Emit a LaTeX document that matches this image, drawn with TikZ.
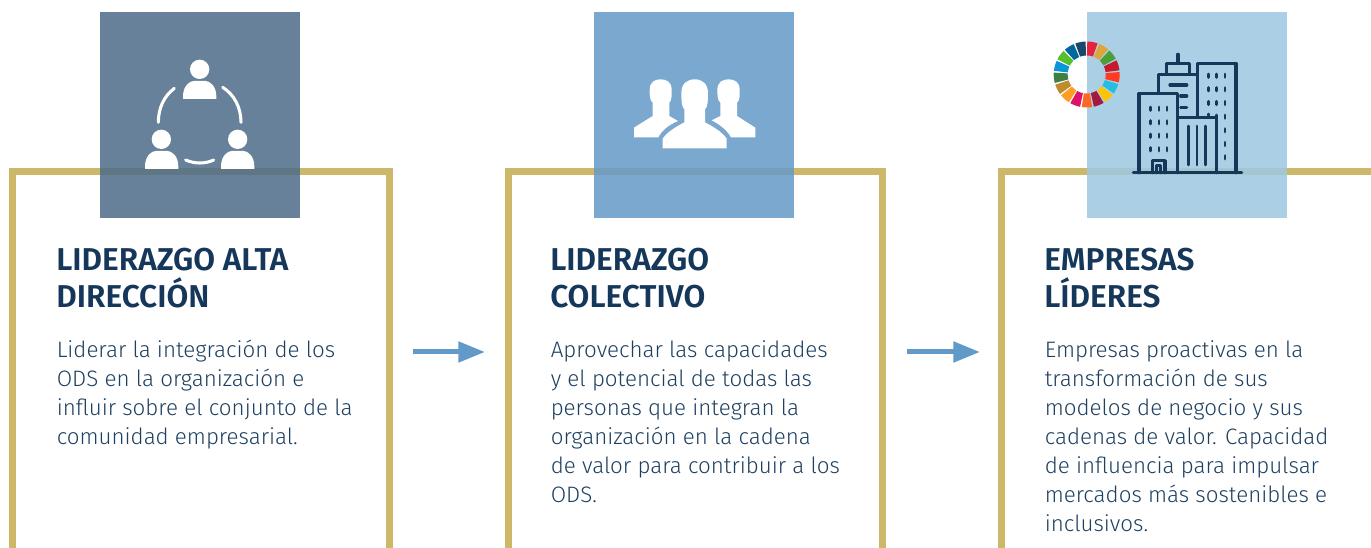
\documentclass[tikz,border=0pt]{standalone}
\usepackage{fontspec}
\setmainfont{Fira Sans Light}[BoldFont=Fira Sans SemiBold]
\usetikzlibrary{arrows.meta}
\definecolor{gold}{HTML}{CDB768}
\definecolor{navy}{HTML}{14375A}
\definecolor{bodyc}{HTML}{1E4060}
\definecolor{arrowc}{HTML}{6199C8}
\definecolor{sqa}{RGB}{79,110,138}
\definecolor{sqb}{RGB}{103,155,199}
\definecolor{sqc}{RGB}{159,201,225}
\tikzset{
  frame/.style={draw=gold,line width=5.25pt,miter limit=10},
  square/.style={opacity=.87},
  heading/.style={anchor=north west,inner sep=0pt,align=left,text=navy,font=\fontsize{23.7}{27.75}\selectfont\bfseries},
  bodytext/.style={anchor=north west,inner sep=0pt,align=left,text=bodyc,font=\fontsize{16.75}{21.75}\selectfont},
  flow/.style={draw=arrowc,line width=3.75pt,-{Triangle[length=20pt,width=15pt]}},
  ico/.style={fill=white,draw=none},
  ringarc/.style={draw=white,line width=2.3pt,line cap=round},
  bld/.style={draw=navy,line width=2.5pt,line cap=round,line join=round},
  win/.style={draw=navy,line width=2.2pt,line cap=round}
}
\begin{document}
\begin{tikzpicture}[x=.75pt,y=-.75pt]
\useasboundingbox (0,0) rectangle (1371,548);
% frames
\draw[frame] (12.5,548) -- (12.5,171.5) -- (389.5,171.5) -- (389.5,548);
\draw[frame] (508.5,548) -- (508.5,171.5) -- (882.5,171.5) -- (882.5,548);
\draw[frame] (1001.5,548) -- (1001.5,171.5) -- (1371,171.5);
% squares
\fill[sqa,square] (100,12) rectangle (300,218);
\fill[sqb,square] (594,12) rectangle (794,218);
\fill[sqc,square] (1087,12) rectangle (1287,218);
% icon 1
\begin{scope}[shift={(90,0)},x=.25pt,y=-.25pt]
  \foreach \hx/\hy/\bx in {329/208/279,214/418/165,443/418/393}{
    \fill[ico] (\hx,\hy) circle[radius=29];
    \pgfmathsetmacro{\by}{\hy+35}
    \fill[ico] (\bx,\by+54) -- (\bx,\by+46) .. controls (\bx,\by+15) and (\bx+20,\by) .. (\bx+32,\by)
      -- (\bx+68,\by) .. controls (\bx+80,\by) and (\bx+100,\by+15) .. (\bx+100,\by+46) -- (\bx+100,\by+54) -- cycle;
  }
  \draw[ringarc] (253,265) .. controls (222,288) and (205,325) .. (205,367);
  \draw[ringarc] (398,262) .. controls (432,283) and (453,322) .. (453,367);
  \draw[ringarc] (287,480) .. controls (315,492) and (345,492) .. (371,480);
\end{scope}
% icon 2
\begin{scope}[shift={(590,60)},x=.25pt,y=-.25pt]
  \fill[ico] (132,232) -- (132,203) -- (188,168) -- (188,128)
    .. controls (178,122) and (179,100) .. (179,90)
    .. controls (179,65) and (195,58) .. (212,58)
    .. controls (229,58) and (245,65) .. (245,90)
    .. controls (245,100) and (246,122) .. (238,128)
    -- (238,168) -- (264,183) .. controls (235,195) and (215,212) .. (205,232) -- cycle;
  \fill[ico] (496,232) -- (496,203) -- (441,168) -- (441,128)
    .. controls (451,122) and (449,100) .. (449,90)
    .. controls (449,65) and (433,58) .. (416,58)
    .. controls (399,58) and (382,65) .. (382,90)
    .. controls (382,100) and (382,122) .. (391,128)
    -- (391,168) -- (365,181) .. controls (392,195) and (412,212) .. (423,232) -- cycle;
  \fill[ico] (218,265) -- (218,236) .. controls (232,215) and (262,198) .. (283,187) -- (283,148)
    .. controls (274,142) and (274,115) .. (274,100)
    .. controls (274,70) and (292,58) .. (314,58)
    .. controls (336,58) and (354,70) .. (354,100)
    .. controls (354,115) and (354,142) .. (345,148)
    -- (345,187) .. controls (366,198) and (396,215) .. (410,236) -- (410,265) -- cycle;
\end{scope}
% icon 3
\begin{scope}[shift={(1040,30)},x=.25pt,y=-.25pt]
  \draw[bld] (280,428) -- (605,428);
  \draw[bld] (297,428) -- (297,190) -- (413,190) -- (413,428);
  \draw[bld] (355,190) -- (355,133) -- (470,133);
  \draw[bld] (380,133) -- (380,100) -- (448,100) -- (448,133);
  \draw[bld] (414,100) -- (414,73);
  \draw[bld] (472,262) -- (472,100) -- (588,100) -- (588,428);
  \draw[bld] (417,262) -- (530,262) -- (530,428);
  \draw[bld] (337,428) -- (337,392) -- (375,392) -- (375,428);
  \draw[bld] (350,428) -- (350,407) -- (362,407) -- (362,428);
  \draw[bld] (390,165) -- (440,165);
  \draw[bld] (422,198) -- (440,198);
  \draw[bld] (422,232) -- (440,232);
  \foreach \bx in {446,471,496} \draw[win] (\bx,288) -- (\bx,405);
  \foreach \wx in {332,357,381} \foreach \wy in {236,277,317,358} \draw[win] (\wx,\wy-5) -- (\wx,\wy+5);
  \foreach \wx in {505,530,555} \foreach \wy in {137,178,219} \draw[win] (\wx,\wy-5) -- (\wx,\wy+5);
  \foreach \wx in {530,555} \draw[win] (\wx,255) -- (\wx,265);
  \draw[win] (505,252) -- (505,256);
  \foreach \wy in {301,342,382} \draw[win] (555,\wy-5) -- (555,\wy+5);
\end{scope}
% SDG wheel
\foreach \c [count=\i from 0] in {E5243B,DDA63A,4C9F38,C5192D,FF3A21,26BDE2,FCC30B,A21942,FD6925,DD1367,FD9D24,BF8B2E,3F7E44,0A97D9,56C02B,00689D,19486A}{
  \definecolor{wedgec}{HTML}{\c}
  \pgfmathsetmacro{\aa}{1+21.176*\i}
  \pgfmathsetmacro{\bb}{\aa+18.2}
  \fill[wedgec] plot[domain=\aa:\bb,samples=6] ({1086.7+33*sin(\x)},{74.5-33*cos(\x)})
     -- plot[domain=\bb:\aa,samples=6] ({1086.7+19*sin(\x)},{74.5-19*cos(\x)}) -- cycle;
}
% texts
\node[heading] (h1) at (56,248) {LIDERAZGO ALTA\\DIRECCIÓN};
\node[heading] (h2) at (550,248) {LIDERAZGO\\COLECTIVO};
\node[heading] (h3) at (1044,248) {EMPRESAS\\LÍDERES};
\node[bodytext] (t1) at (56.5,340) {Liderar la integración de los\\ODS en la organización e\\influir sobre el conjunto de la\\comunidad empresarial.};
\node[bodytext] (t2) at (550.5,340) {Aprovechar las capacidades\\y el potencial de todas las\\personas que integran la\\organización en la cadena\\de valor para contribuir a los\\ODS.};
\node[bodytext] (t3) at (1044.5,340) {Empresas proactivas en la\\transformación de sus\\modelos de negocio y sus\\cadenas de valor. Capacidad\\de influencia para impulsar\\mercados más sostenibles e\\inclusivos.};
% arrows
\coordinate (a1s) at (413,352);
\coordinate (a1e) at (485,352);
\coordinate (a2s) at (907,352);
\coordinate (a2e) at (980,352);
\draw[flow] (a1s) -- (a1e);
\draw[flow] (a2s) -- (a2e);
\end{tikzpicture}
\end{document}
